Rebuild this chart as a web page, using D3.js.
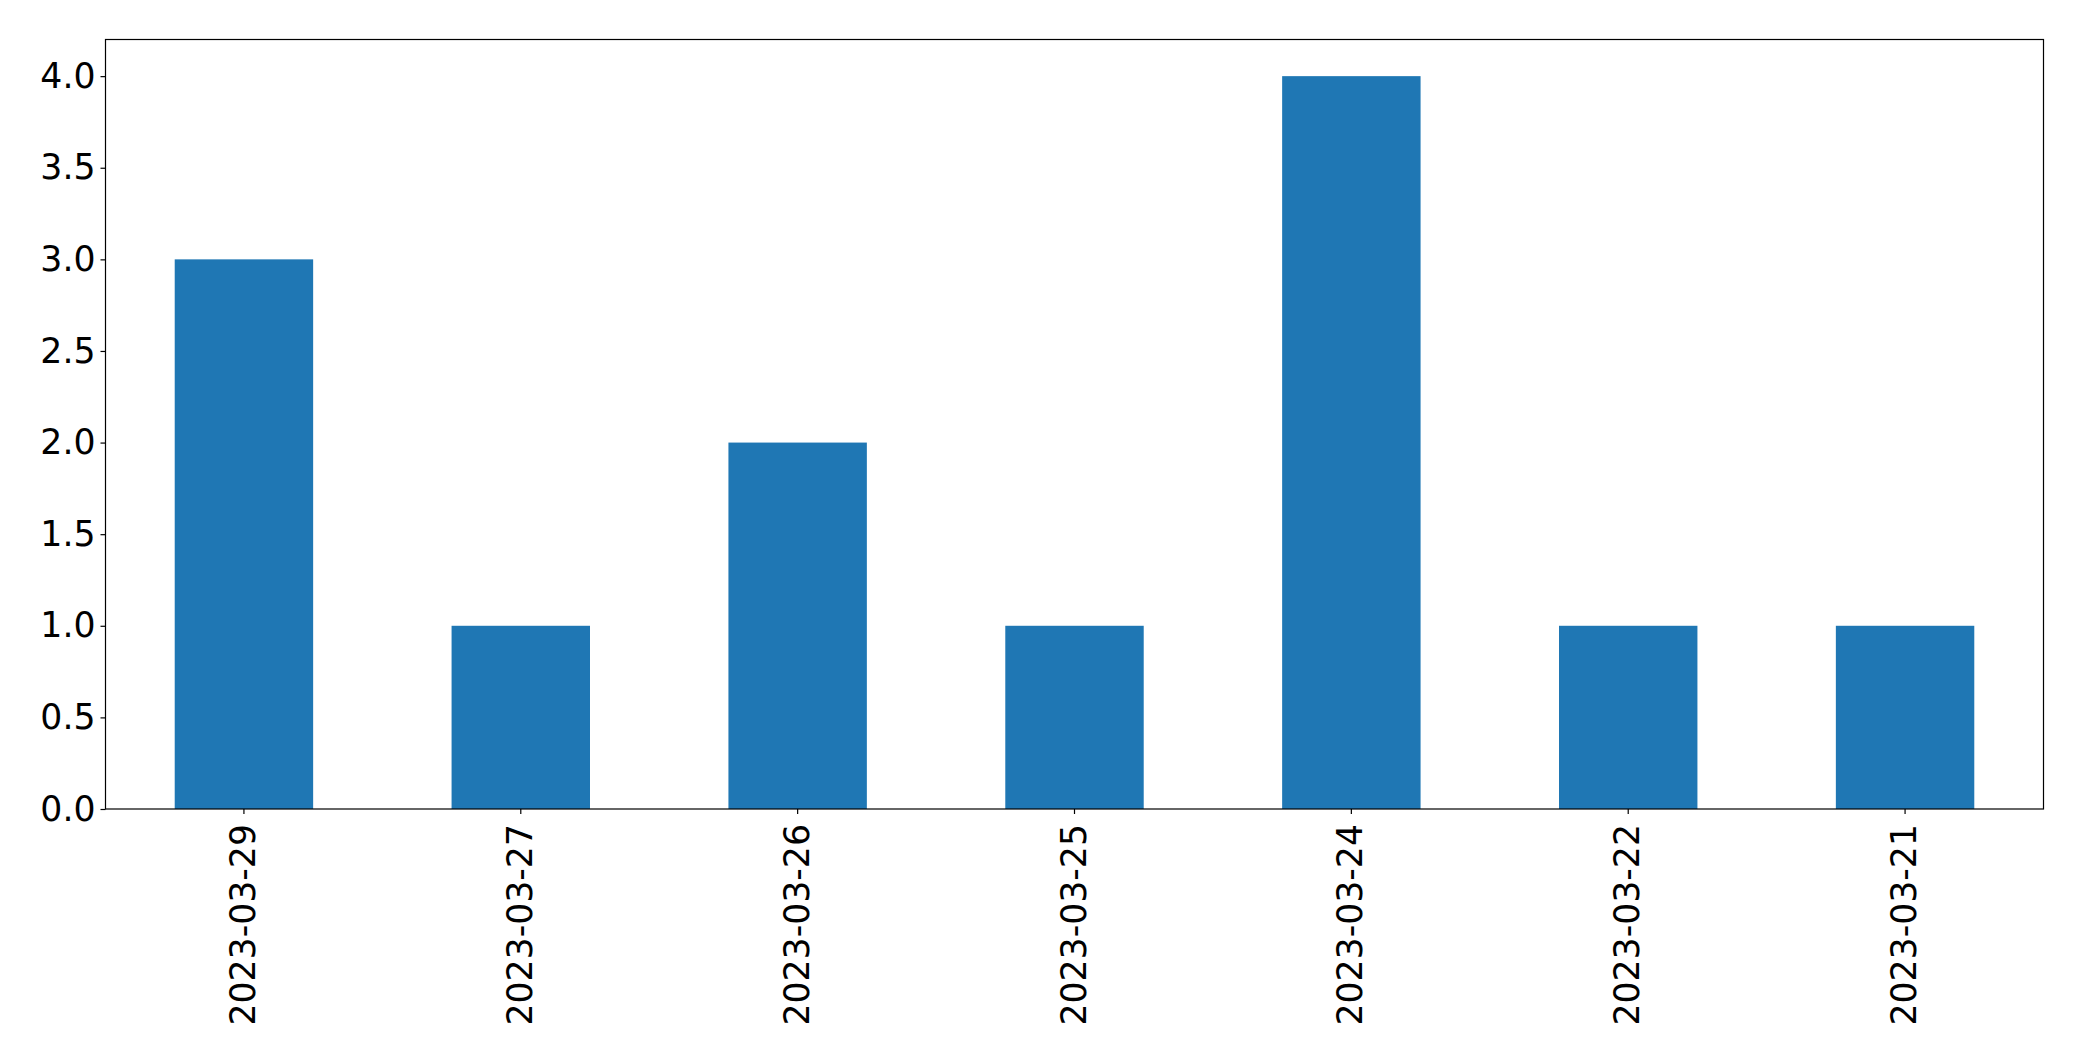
<!DOCTYPE html>
<html><head><meta charset="utf-8">
<script src="https://cdn.jsdelivr.net/npm/d3@7"></script>
<style>body{margin:0;background:#fff;} svg{display:block;}</style>
</head><body>
<script>
const categories = ["2023-03-29","2023-03-27","2023-03-26","2023-03-25","2023-03-24","2023-03-22","2023-03-21"];
const values = [3, 1, 2, 1, 4, 1, 1];
const yTicks = [0, 0.5, 1, 1.5, 2, 2.5, 3, 3.5, 4];

const W = 2082, H = 1061;
const m = {left: 105.5, right: 2043.5, top: 39.5, bottom: 809};
const svg = d3.select("body").append("svg").attr("width", W).attr("height", H);

const x = d3.scaleBand().domain(categories).range([m.left, m.right]).paddingInner(0.5).paddingOuter(0.25);
const y = d3.scaleLinear().domain([0, 4.2]).range([m.bottom, m.top]);

svg.append("g").selectAll("rect").data(values).join("rect")
  .attr("x", (d,i) => x(categories[i]))
  .attr("width", x.bandwidth())
  .attr("y", d => y(d))
  .attr("height", d => y(0) - y(d))
  .attr("fill", "#1f77b4");

const font = "DejaVu Sans, sans-serif";
const fs = 34.7;
const yAxis = svg.append("g").attr("transform", `translate(${m.left},0)`)
  .call(d3.axisLeft(y).tickValues(yTicks).tickFormat(d3.format(".1f")).tickSizeOuter(0).tickSize(5).tickPadding(5));
yAxis.select(".domain").remove();
yAxis.selectAll("text").attr("font-family", font).attr("font-size", fs).attr("fill", "#000");
yAxis.selectAll("line").attr("stroke", "#000").attr("stroke-width", 1.2);

const xAxis = svg.append("g").attr("transform", `translate(0,${m.bottom})`)
  .call(d3.axisBottom(x).tickSizeOuter(0).tickSize(5).tickPadding(0));
xAxis.select(".domain").remove();
xAxis.selectAll("line").attr("stroke", "#000").attr("stroke-width", 1.2);
xAxis.selectAll("text")
  .attr("font-family", font).attr("font-size", fs).attr("fill", "#000")
  .attr("dy", null).attr("y", 0)
  .attr("transform", "translate(-1,15) rotate(-90)")
  .attr("text-anchor", "end").attr("dominant-baseline", "central");

svg.append("rect").attr("x", m.left).attr("y", m.top)
  .attr("width", m.right - m.left).attr("height", m.bottom - m.top)
  .attr("fill", "none").attr("stroke", "#000").attr("stroke-width", 1.2);
</script>
</body></html>
